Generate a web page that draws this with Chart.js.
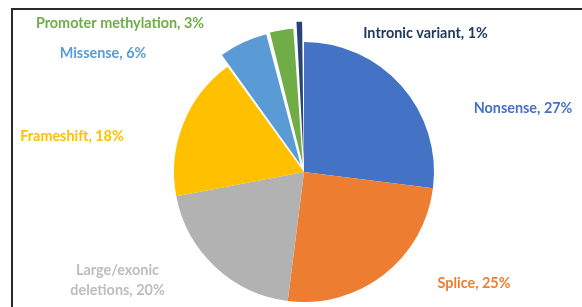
<!DOCTYPE html>
<html>
<head>
<meta charset="utf-8">
<script src="https://cdn.jsdelivr.net/npm/chart.js@4.4.1/dist/chart.umd.min.js"></script>
<style>
  html, body { margin: 0; padding: 0; background: #fff; overflow: hidden; }
  #wrap { position: relative; width: 582px; height: 307px; overflow: hidden; }
  #frame {
    position: absolute; left: 11px; top: 8px; width: 600px; height: 320px;
    border-left: 2px solid #2a2a2a; border-top: 2px solid #2a2a2a;
  }
  #pie { position: absolute; left: 0; top: 0; }
</style>
</head>
<body>
<div id="wrap">
  <div id="frame"></div>
  <canvas id="pie" width="582" height="330"></canvas>
</div>
<script>
// Mutation types (clockwise from 12 o'clock)
const categories = [
  "Nonsense",
  "Splice",
  ["Large/exonic", "deletions"],
  "Frameshift",
  "Missense",
  "Promoter methylation",
  "Intronic variant"
];
const percents = [27, 25, 20, 18, 6, 3, 1];

const sliceColors = ["#4472C4", "#ED7D31", "#B2B2B2", "#FFC000", "#5B9BD5", "#70AD47", "#264478"];
const labelColors = ["#4472C4", "#ED7D31", "#BDBDBD", "#FFC000", "#5B9BD5", "#70AD47", "#203864"];
// pulled-out slices
const sliceOffsets = [0, 0, 0, 0, 32, 30, 42];

// label anchor (text centre) for each slice, placed like the original
const labelSpots = [
  [523, 108.5],
  [474, 283.5],
  [117.5, 270.5],
  [72, 136.5],
  [103, 53.5],
  [120, 23],
  [425.5, 33.5]
];

const pieLabels = {
  id: "pieLabels",
  afterDatasetsDraw(chart) {
    const ctx = chart.ctx;
    ctx.save();
    ctx.font = "bold 14.4px Lato";
    ctx.textAlign = "center";
    ctx.textBaseline = "middle";
    chart.data.labels.forEach((name, i) => {
      const lines = Array.isArray(name) ? name.slice() : [name];
      lines[lines.length - 1] += ", " + chart.data.datasets[0].data[i] + "%";
      ctx.fillStyle = labelColors[i];
      const [x, y] = labelSpots[i];
      lines.forEach((t, k) => ctx.fillText(t, x, y + k * 20));
    });
    ctx.restore();
  }
};

document.addEventListener("DOMContentLoaded", function () {
  const ctx = document.getElementById("pie").getContext("2d");
  new Chart(ctx, {
    type: "pie",
    data: {
      labels: categories,
      datasets: [
        {
          data: percents,
          backgroundColor: sliceColors,
          borderWidth: 0,
          offset: sliceOffsets,
          radius: 130
        }
      ]
    },
    options: {
      responsive: false,
      animation: false,
      devicePixelRatio: 1,
      layout: { padding: { left: 153, right: 127, top: 21, bottom: 7 } },
      plugins: {
        legend: { display: false },
        tooltip: { enabled: false }
      }
    },
    plugins: [pieLabels]
  });
});
</script>
</body>
</html>
